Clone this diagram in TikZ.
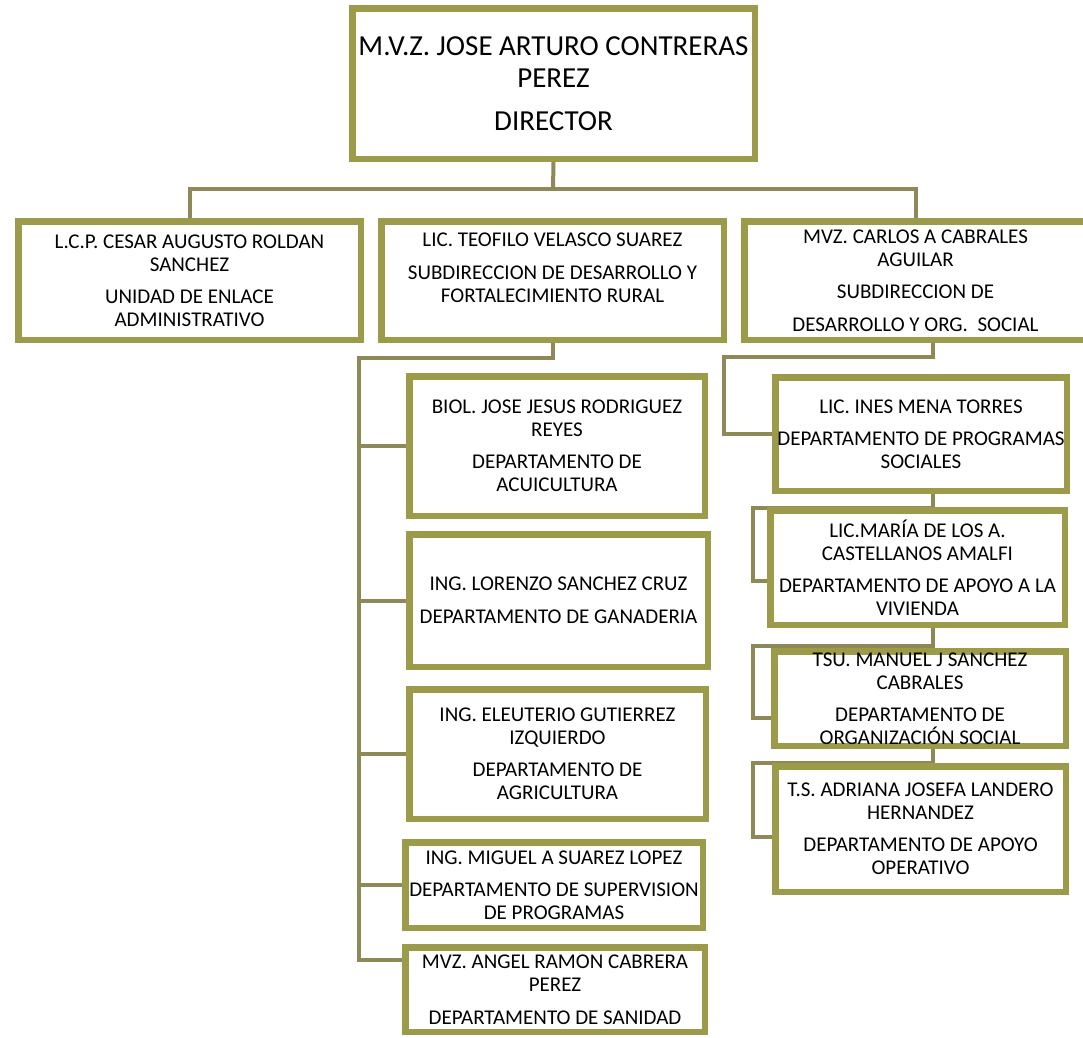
\documentclass[tikz,border=0pt]{standalone}
\usepackage{fontspec}
\setmainfont{Carlito}
\usetikzlibrary{backgrounds}
\definecolor{boxcol}{RGB}{156,155,74}
\definecolor{linkcol}{RGB}{143,137,87}
\tikzset{
  unit/.style={draw=boxcol, line width=6.5pt, fill=white, inner sep=0pt, align=flush center,
    font=\fontsize{21}{23}\selectfont},
  link/.style={draw=linkcol, line width=4pt},
}

\begin{document}
\begin{tikzpicture}[x=1pt,y=-1pt]
\useasboundingbox (0,0) rectangle (1083,1037);
% director
\node [unit, text width=402.5pt, minimum height=150.5pt, font=\fontsize{29}{32}\selectfont] (dir) at (553.5,83.5)
  {\mbox{M.V.Z. JOSE ARTURO CONTRERAS}\\PEREZ\\[11pt]DIRECTOR};
% subdirecciones
\node [unit, text width=342.5pt, minimum height=118.5pt] (la) at (189.5,280.5)
  {L.C.P. CESAR AUGUSTO ROLDAN\\SANCHEZ\\[9pt]UNIDAD DE ENLACE\\ADMINISTRATIVO};
\node [unit, text width=342.5pt, minimum height=118.5pt] (lb) at (552.5,280.5)
  {LIC. TEOFILO VELASCO SUAREZ\\[10pt]SUBDIRECCION DE DESARROLLO Y\\FORTALECIMIENTO RURAL\\[-5pt]\strut};
\node [unit, text width=342.5pt, minimum height=118.5pt] (lc) at (915.5,280.5)
  {MVZ. CARLOS A CABRALES\\AGUILAR\\[9pt]SUBDIRECCION DE\\[10pt]DESARROLLO Y ORG.\ \ SOCIAL};
% departamentos rurales
\node [unit, text width=295.5pt, minimum height=139.5pt] (b1) at (557,446)
  {BIOL. JOSE JESUS RODRIGUEZ\\REYES\\[9pt]DEPARTAMENTO DE\\ACUICULTURA};
\node [unit, text width=298.5pt, minimum height=132.5pt] (b2) at (558.5,600.5)
  {ING. LORENZO SANCHEZ CRUZ\\[10pt]DEPARTAMENTO DE GANADERIA};
\node [unit, text width=296.5pt, minimum height=129.5pt] (b3) at (557.5,754)
  {ING. ELEUTERIO GUTIERREZ\\IZQUIERDO\\[9pt]DEPARTAMENTO DE\\AGRICULTURA};
\node [unit, text width=297.5pt, minimum height=85.5pt] (b4) at (554,885)
  {ING. MIGUEL A SUAREZ LOPEZ\\[9pt]\mbox{DEPARTAMENTO DE SUPERVISION}\\DE PROGRAMAS};
\node [unit, text width=299.5pt, minimum height=84.5pt] (b5) at (555,989.5)
  {MVZ. ANGEL RAMON CABRERA\\PEREZ\\[10pt]DEPARTAMENTO DE SANIDAD};
% departamentos sociales
\node [unit, text width=291.5pt, minimum height=113.5pt] (c1) at (921,434)
  {LIC. INES MENA TORRES\\[9pt]\mbox{DEPARTAMENTO DE PROGRAMAS}\\SOCIALES};
\node [unit, text width=294.5pt, minimum height=114.5pt] (c2) at (917.5,567.5)
  {LIC.MARÍA DE LOS A.\\CASTELLANOS AMALFI\\[9pt]\mbox{DEPARTAMENTO DE APOYO A LA}\\VIVIENDA};
\node [unit, text width=291.5pt, minimum height=94.5pt] (c3) at (920,698.5)
  {TSU. MANUEL J SANCHEZ\\CABRALES\\[9pt]DEPARTAMENTO DE\\ORGANIZACIÓN SOCIAL};
\node [unit, text width=290.5pt, minimum height=125.5pt] (c4) at (920.5,829)
  {T.S. ADRIANA JOSEFA LANDERO\\HERNANDEZ\\[9pt]DEPARTAMENTO DE APOYO\\OPERATIVO};

\begin{scope}[on background layer]
% top level
\coordinate (hub) at (553,189);
\draw [link] (dir.south) -- (hub);
\draw [link] (la.north) |- (hub) -| (lc.north);
% rural branch
\coordinate (mtop) at (359,358);
\coordinate (mbot) at (359,960);
\draw [link] (lb.south) |- (mtop) -- (mbot) -- (mbot -| b5.west);
\foreach \n in {b1,b2,b3,b4}
  \draw [link] (mtop |- \n.west) -- (\n.west);
% social branch
\coordinate (rtop) at (933,357);
\coordinate (r0) at (724,357);
\draw [link] (lc.south -| rtop) -- (rtop) -- (r0) |- (c1.west);
\foreach \a/\b/\ya/\yb in {c1/c2/508/581, c2/c3/646/718, c3/c4/763/837}
  \draw [link] (\a.south -| rtop) |- (753,\ya) -- (753,\yb) -- (\b.west |- 753,\yb);
\end{scope}
\end{tikzpicture}
\end{document}
